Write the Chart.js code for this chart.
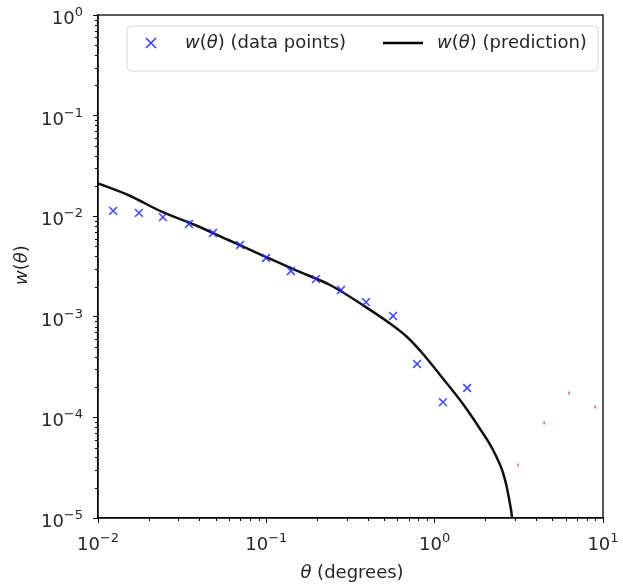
<!DOCTYPE html>
<html>
<head>
<meta charset="utf-8">
<script src="https://cdn.jsdelivr.net/npm/chart.js@4"></script>
<style>
  html, body { margin: 0; padding: 0; background: #fff; }
  #wrap { width: 623px; height: 585px; position: relative; }
</style>
</head>
<body>
<div id="wrap"><canvas id="wtheta"></canvas></div>
<script>
  // measured points (blue crosses)
  const thetaData = [0.0123, 0.0175, 0.0243, 0.0347, 0.0482, 0.0698, 0.0996, 0.140, 0.197, 0.278, 0.391, 0.566, 0.786, 1.12, 1.56];
  const wData = [0.0113, 0.0108, 0.0098, 0.00836, 0.0068, 0.00517, 0.00384, 0.00285, 0.00237, 0.00185, 0.0014, 0.00102, 0.00034, 0.000142, 0.000196];

  // prediction curve
  const thetaPred = [0.01, 0.0151, 0.0239, 0.0377, 0.0595, 0.0939, 0.148, 0.239, 0.376, 0.543, 0.686, 0.853, 1.077, 1.415, 1.623, 1.861, 2.105, 2.316, 2.515, 2.656, 2.768, 2.844, 2.884];
  const wPred = [0.0212, 0.01625, 0.01109, 0.00818, 0.0058, 0.00411, 0.00292, 0.00207, 0.0013, 0.000858, 0.00063, 0.000427, 0.000264, 0.000149, 0.000108, 7.67e-5, 5.57e-5, 4.13e-5, 3.0e-5, 2.18e-5, 1.545e-5, 1.2e-5, 1e-5];

  // small red error marks beyond the data
  const thetaRed = [3.13, 4.47, 6.29, 8.98];
  const wRed = [3.36e-5, 8.8e-5, 1.75e-4, 1.27e-4];

  const xTicks = [1e-2, 1e-1, 1e0, 1e1];
  const yTicks = [1e-5, 1e-4, 1e-3, 1e-2, 1e-1, 1e0];

  const FONT = 'DejaVu Sans';
  const FS = 18;

  function pts(xs, ys) {
    return xs.map((x, i) => ({ x: x, y: ys[i] }));
  }

  function fnt(style, size) {
    return style + ' ' + size + 'px "' + FONT + '"';
  }

  // draw text made of pieces with different font styles
  function drawRich(ctx, parts, x, y, size, align) {
    let total = 0;
    parts.forEach(p => {
      ctx.font = fnt(p[1], size);
      total += ctx.measureText(p[0]).width;
    });
    let cx = align === 'center' ? x - total / 2 : x;
    ctx.textAlign = 'left';
    ctx.textBaseline = 'middle';
    parts.forEach(p => {
      ctx.font = fnt(p[1], size);
      ctx.fillText(p[0], cx, y);
      cx += ctx.measureText(p[0]).width;
    });
  }

  // "10" with a raised exponent; align: 'center' or 'right', y is the baseline
  function drawPow(ctx, v, x, y, align) {
    const e = String(Math.round(Math.log10(v))).replace('-', '\u2212');
    const es = Math.round(FS * 0.7);
    ctx.font = fnt('normal', FS);
    const w1 = ctx.measureText('10').width;
    ctx.font = fnt('normal', es);
    const w2 = ctx.measureText(e).width;
    const total = w1 + w2;
    const x0 = align === 'right' ? x - total : x - total / 2;
    ctx.textAlign = 'left';
    ctx.textBaseline = 'alphabetic';
    ctx.font = fnt('normal', FS);
    ctx.fillText('10', x0, y);
    ctx.font = fnt('normal', es);
    ctx.fillText(e, x0 + w1, y - 8);
  }

  const framePlugin = {
    id: 'frame',
    afterDraw(chart) {
      const ctx = chart.ctx;
      const a = chart.chartArea;
      const xs = chart.scales.x, ys = chart.scales.y;
      ctx.save();
      ctx.strokeStyle = '#000';
      ctx.lineWidth = 1.3;
      ctx.strokeRect(a.left, a.top, a.right - a.left, a.bottom - a.top);

      // minor ticks
      ctx.lineWidth = 1;
      ctx.beginPath();
      for (let d = -2; d < 1; d++) {
        for (let m = 2; m <= 9; m++) {
          const px = Math.round(xs.getPixelForValue(m * Math.pow(10, d))) + 0.5;
          ctx.moveTo(px, a.bottom);
          ctx.lineTo(px, a.bottom + 3);
        }
      }
      for (let d = -5; d < 0; d++) {
        for (let m = 2; m <= 9; m++) {
          const py = Math.round(ys.getPixelForValue(m * Math.pow(10, d))) + 0.5;
          ctx.moveTo(a.left, py);
          ctx.lineTo(a.left - 3, py);
        }
      }
      ctx.stroke();

      // tick labels
      ctx.fillStyle = '#262626';
      xTicks.forEach(v => drawPow(ctx, v, xs.getPixelForValue(v), a.bottom + 32, 'center'));
      yTicks.forEach(v => drawPow(ctx, v, a.left - 15, ys.getPixelForValue(v) + 9, 'right'));

      // axis titles
      drawRich(ctx, [['\u03B8', 'italic'], [' (degrees)', 'normal']], 352, 573, FS, 'center');
      ctx.save();
      ctx.translate(22, 265);
      ctx.rotate(-Math.PI / 2);
      drawRich(ctx, [['w', 'italic'], ['(', 'normal'], ['\u03B8', 'italic'], [')', 'normal']], 0, 0, FS, 'center');
      ctx.restore();

      // legend box
      const lx = 127, ly = 26, lw = 471, lh = 45, r = 4;
      ctx.beginPath();
      ctx.moveTo(lx + r, ly);
      ctx.arcTo(lx + lw, ly, lx + lw, ly + lh, r);
      ctx.arcTo(lx + lw, ly + lh, lx, ly + lh, r);
      ctx.arcTo(lx, ly + lh, lx, ly, r);
      ctx.arcTo(lx, ly, lx + lw, ly, r);
      ctx.closePath();
      ctx.fillStyle = 'rgba(255,255,255,0.85)';
      ctx.fill();
      ctx.strokeStyle = '#d6d6d6';
      ctx.lineWidth = 1;
      ctx.stroke();

      const my = ly + 17;
      // cross marker
      ctx.strokeStyle = 'rgba(40,40,255,0.9)';
      ctx.lineWidth = 1.6;
      ctx.beginPath();
      ctx.moveTo(146, my - 5); ctx.lineTo(156, my + 5);
      ctx.moveTo(156, my - 5); ctx.lineTo(146, my + 5);
      ctx.stroke();
      // line sample
      ctx.strokeStyle = '#000';
      ctx.lineWidth = 2.5;
      ctx.beginPath();
      ctx.moveTo(383, my); ctx.lineTo(423, my);
      ctx.stroke();

      ctx.fillStyle = '#262626';
      drawRich(ctx, [['w', 'italic'], ['(', 'normal'], ['\u03B8', 'italic'], [') (data points)', 'normal']], 185, my, FS, 'left');
      drawRich(ctx, [['w', 'italic'], ['(', 'normal'], ['\u03B8', 'italic'], [') (prediction)', 'normal']], 437, my, FS, 'left');
      ctx.restore();
    }
  };

  const axisCommon = {
    type: 'logarithmic',
    grid: { display: true, drawOnChartArea: false, drawTicks: true, tickLength: 5, tickColor: '#000', tickWidth: 1 },
    border: { display: true, color: '#000', width: 1.3 },
    ticks: { display: false, autoSkip: false }
  };

  const config = {
    type: 'scatter',
    data: {
      datasets: [
        {
          label: 'w(θ) (prediction)',
          data: pts(thetaPred, wPred),
          showLine: true,
          borderColor: '#111',
          borderWidth: 2.5,
          pointRadius: 0,
          cubicInterpolationMode: 'monotone',
          order: 2
        },
        {
          label: 'w(θ) (data points)',
          data: pts(thetaData, wData),
          pointStyle: 'crossRot',
          pointRadius: 5.5,
          borderColor: 'rgba(40,40,255,0.85)',
          borderWidth: 1.6,
          order: 1
        },
        {
          label: 'errors',
          data: pts(thetaRed, wRed),
          pointStyle: 'line',
          rotation: 90,
          pointRadius: 1.5,
          borderColor: 'rgba(255,60,60,0.9)',
          borderWidth: 1.5,
          order: 3
        }
      ]
    },
    options: {
      responsive: true,
      maintainAspectRatio: false,
      animation: false,
      layout: { padding: { left: 0, right: 20, top: 15, bottom: 0 } },
      plugins: { legend: { display: false }, tooltip: { enabled: false } },
      scales: {
        x: Object.assign({}, axisCommon, {
          min: 1e-2, max: 1e1,
          afterBuildTicks: (s) => { s.ticks = xTicks.map(v => ({ value: v, major: true })); },
          afterFit: (s) => { s.height = 67; }
        }),
        y: Object.assign({}, axisCommon, {
          min: 1e-5, max: 1e0,
          afterBuildTicks: (s) => { s.ticks = yTicks.map(v => ({ value: v, major: true })); },
          afterFit: (s) => { s.width = 98; }
        })
      }
    },
    plugins: [framePlugin]
  };

  const myChart = new Chart(document.getElementById('wtheta'), config);
</script>
</body>
</html>
